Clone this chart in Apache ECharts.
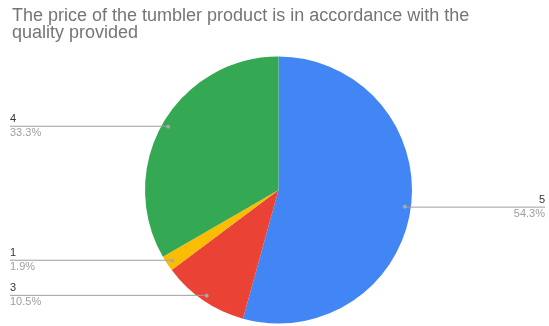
<!DOCTYPE html>
<html>
<head>
<meta charset="utf-8">
<script src="https://cdn.jsdelivr.net/npm/echarts@6/dist/echarts.min.js"></script>
<style>
  html, body { margin: 0; padding: 0; background: #fff; }
  #chart { width: 549px; height: 326px; }
</style>
</head>
<body>
<div id="chart"></div>
<script>
// Survey answers (rating) and how many respondents gave each, in drawing order
const ratings = ['5', '3', '1', '4'];
const counts = [57, 11, 2, 35];
const sliceColors = ['#4285F4', '#EA4335', '#FBBC04', '#34A853'];
const chartTitle = 'The price of the tumbler product is in accordance with the\nquality provided';

const W = 549;
const FONT = 'Liberation Sans, Arial, sans-serif';
const pieCenter = [278.5, 190];
const pieRadius = 133.5;
const anchorRatio = 0.955; // where the leader line starts, relative to radius

// point on the slice's mid-angle ray where the leader line begins
function anchorOf(params) {
  const pts = params.labelLinePoints;
  if (!pts) return null;
  const cx = pieCenter[0], cy = pieCenter[1];
  return {
    x: cx + (pts[0][0] - cx) * anchorRatio,
    y: cy + (pts[0][1] - cy) * anchorRatio,
    right: pts[0][0] > cx
  };
}

const baseData = ratings.map((r, i) => ({ name: r, value: counts[i] }));

const common = {
  type: 'pie',
  center: pieCenter,
  radius: pieRadius,
  startAngle: 90,
  clockwise: true,
  percentPrecision: 1,
  avoidLabelOverlap: false,
  animation: false,
  emphasis: { disabled: true }
};

const chart = echarts.init(document.getElementById('chart'), null, { renderer: 'canvas' });

chart.setOption({
  backgroundColor: '#ffffff',
  animation: false,
  title: {
    text: chartTitle,
    left: 7,
    top: 2,
    textStyle: {
      fontFamily: FONT,
      fontSize: 18,
      fontWeight: 'normal',
      color: '#757575',
      lineHeight: 17.5
    }
  },
  series: [
    // coloured slices
    Object.assign({}, common, {
      z: 2,
      itemStyle: { borderWidth: 0 },
      data: baseData.map((d, i) => ({
        name: d.name,
        value: d.value,
        itemStyle: { color: sliceColors[i] }
      })),
      label: { show: false },
      labelLine: { show: false }
    }),
    // transparent overlay carrying the labels and leader lines above the slices
    Object.assign({}, common, {
      z: 3,
      silent: true,
      itemStyle: { color: 'rgba(0,0,0,0)', borderWidth: 0 },
      data: baseData,
      label: {
        show: true,
        position: 'outer',
        formatter: '{n|{b}}\n{p|{d}%}',
        fontFamily: FONT,
        rich: {
          n: { fontSize: 11, color: '#333333', lineHeight: 14, fontFamily: FONT },
          p: { fontSize: 11, color: '#9e9e9e', lineHeight: 14, fontFamily: FONT }
        }
      },
      labelLine: {
        show: true,
        length: 0,
        length2: 10,
        smooth: false,
        lineStyle: { color: '#9e9e9e', width: 1 }
      },
      labelLayout: function (params) {
        const a = anchorOf(params);
        if (!a) return {};
        const tx = a.right ? W - 4 : 10;
        return {
          x: tx,
          y: a.y,
          align: a.right ? 'right' : 'left',
          verticalAlign: 'middle',
          labelLinePoints: [[a.x, a.y], [a.x, a.y], [tx, a.y]]
        };
      }
    }),
    // small dots at the inner end of each leader line
    Object.assign({}, common, {
      z: 4,
      silent: true,
      itemStyle: { color: 'rgba(0,0,0,0)', borderWidth: 0 },
      data: baseData,
      label: {
        show: true,
        position: 'outer',
        formatter: '●',
        fontSize: 5,
        color: '#a8a8a8',
        fontFamily: 'DejaVu Sans, sans-serif'
      },
      labelLine: {
        show: true,
        length: 0,
        length2: 1,
        lineStyle: { opacity: 0, width: 0 }
      },
      labelLayout: function (params) {
        const a = anchorOf(params);
        if (!a) return {};
        return { x: a.x, y: a.y, align: 'center', verticalAlign: 'middle' };
      }
    })
  ]
});
</script>
</body>
</html>
